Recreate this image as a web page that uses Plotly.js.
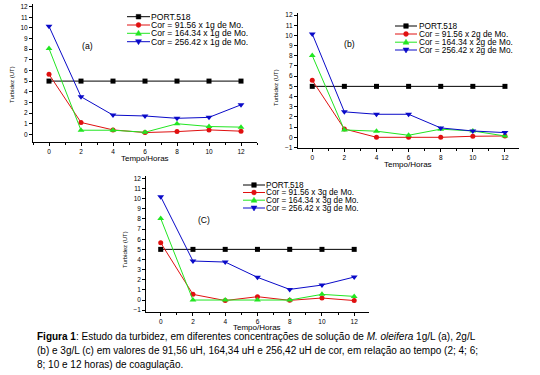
<!DOCTYPE html>
<html>
<head>
<meta charset="utf-8">
<script src="https://cdn.plot.ly/plotly-3.0.1.min.js"></script>
<style>html,body{margin:0;padding:0;background:#fff;}#chart{width:540px;height:375px;}</style>
</head>
<body>
<div id="chart"></div>
<script>
// ---- data ----
const hours = [0, 2, 4, 6, 8, 10, 12];
const port518 = [5, 5, 5, 5, 5, 5, 5];

// panel (a) 1 g/L
const a_cor9156 = [5.64, 1.11, 0.41, 0.16, 0.25, 0.41, 0.29];
const a_cor16434 = [8.06, 0.38, 0.38, 0.19, 0.99, 0.73, 0.67];
const a_cor25642 = [10.15, 3.53, 1.80, 1.72, 1.50, 1.59, 2.77];

// panel (b) 2 g/L
const b_cor9156 = [5.60, 0.82, 0.0, 0.0, 0.0, 0.10, 0.13];
const b_cor16434 = [8.02, 0.72, 0.60, 0.20, 0.80, 0.62, 0.13];
const b_cor25642 = [10.15, 2.50, 2.26, 2.26, 0.92, 0.62, 0.46];

// panel (c) 3 g/L
const c_cor9156 = [5.65, 0.56, -0.05, 0.33, -0.03, 0.20, -0.05];
const c_cor16434 = [8.05, 0.0, 0.0, 0.0, 0.0, 0.56, 0.36];
const c_cor25642 = [10.20, 3.85, 3.75, 2.24, 1.05, 1.48, 2.27];

const legendNames = ['PORT.518', 'Cor = 91.56 x 1g de Mo.', 'Cor = 164.34 x 1g de Mo.', 'Cor = 256.42 x 1g de Mo.'];
const legendNamesB = ['PORT.518', 'Cor = 91.56 x 2g de Mo.', 'Cor = 164.34 x 2g de Mo.', 'Cor = 256.42 x 2g de Mo.'];
const legendNamesC = ['PORT.518', 'Cor = 91.56 x 3g de Mo.', 'Cor = 164.34 x 3g de Mo.', 'Cor = 256.42 x 3g de Mo.'];
const xTickVals = [0, 2, 4, 6, 8, 10, 12];
const xTitle = 'Tempo/Horas';
const yTitle = 'Turbidez (UT)';
const panelLabels = ['(a)', '(b)', '(C)'];

// ---- styles ----
const W = 540, H = 375;
const FONT = 'Liberation Sans, Arial, sans-serif';
const colors = ['#000000', '#e01010', '#22e622', '#0a0ac8'];
const symbols = ['square', 'circle', 'triangle-up', 'triangle-down'];
const msizes = [5, 5, 6, 6];

const panels = [
  {series: [port518, a_cor9156, a_cor16434, a_cor25642], names: legendNames, xa: 'x', ya: 'y'},
  {series: [port518, b_cor9156, b_cor16434, b_cor25642], names: legendNamesB, xa: 'x2', ya: 'y2'},
  {series: [port518, c_cor9156, c_cor16434, c_cor25642], names: legendNamesC, xa: 'x3', ya: 'y3'}
];

const traces = [];
panels.forEach(p => {
  p.series.forEach((s, i) => {
    traces.push({
      x: hours, y: s, xaxis: p.xa, yaxis: p.ya, name: p.names[i],
      type: 'scatter', mode: 'lines+markers',
      line: {color: colors[i], width: 1},
      marker: {color: colors[i], symbol: symbols[i], size: msizes[i]},
      cliponaxis: false, showlegend: false
    });
  });
});

const px = v => v / W;
const py = v => 1 - v / H;

function xaxis(domain, range) {
  return {
    domain: domain, range: range, showline: true, linecolor: '#000', linewidth: 1,
    ticks: 'outside', ticklen: 3, tickwidth: 1, tickcolor: '#000',
    tickvals: xTickVals, showgrid: false, zeroline: false,
    tickfont: {family: FONT, size: 6.5, color: '#000'},
    minor: {dtick: 1, tick0: 0, ticks: 'outside', ticklen: 2, tickcolor: '#000', showgrid: false},
    fixedrange: true, automargin: false
  };
}
function yaxis(domain, range) {
  return {
    domain: domain, range: range, showline: true, linecolor: '#000', linewidth: 1,
    ticks: 'outside', ticklen: 3, tickwidth: 1, tickcolor: '#000',
    dtick: 1, tick0: 0, showgrid: false, zeroline: false,
    tickfont: {family: FONT, size: 6.5, color: '#000'},
    fixedrange: true, automargin: false
  };
}

const annotations = [];
const shapes = [];
function txt(x, y, text, size, opts) {
  annotations.push(Object.assign({
    xref: 'paper', yref: 'paper', x: px(x), y: py(y), text: text, showarrow: false,
    font: {family: FONT, size: size, color: '#000'}, xanchor: 'center', yanchor: 'middle'
  }, opts || {}));
}

// axis titles
txt(145, 158.5, xTitle, 8);
txt(408, 165, xTitle, 8);
txt(257, 327, xTitle, 8);
txt(12, 85, yTitle, 6, {textangle: -90});
txt(276, 88, yTitle, 6, {textangle: -90});
txt(125, 250, yTitle, 6, {textangle: -90});

// panel labels
txt(87, 46, panelLabels[0], 8.7);
txt(349.5, 43.5, panelLabels[1], 8.7);
txt(204, 219.5, panelLabels[2], 8.5);

// legends drawn as shapes + text
function legend(names, x0, x1, textX, ys, fs) {
  names.forEach((n, i) => {
    const y = ys[i];
    shapes.push({type: 'line', xref: 'paper', yref: 'paper', x0: px(x0), x1: px(x1), y0: py(y), y1: py(y),
      line: {color: colors[i], width: 1}});
    const xm = (x0 + x1) / 2;
    const base = {xref: 'paper', yref: 'paper', xsizemode: 'pixel', ysizemode: 'pixel',
      xanchor: px(xm), yanchor: py(y), fillcolor: colors[i], line: {color: colors[i], width: 0.5}};
    if (i === 0) shapes.push(Object.assign({type: 'rect', x0: -2.3, x1: 2.3, y0: -2.3, y1: 2.3}, base));
    else if (i === 1) shapes.push(Object.assign({type: 'circle', x0: -2.4, x1: 2.4, y0: -2.4, y1: 2.4}, base));
    else if (i === 2) shapes.push(Object.assign({type: 'path', path: 'M -3 -2 L 3 -2 L 0 3 Z'}, base));
    else shapes.push(Object.assign({type: 'path', path: 'M -3 2 L 3 2 L 0 -3 Z'}, base));
    txt(textX, y, n, fs, {xanchor: 'left'});
  });
}
legend(legendNames, 127, 150, 149, [16.7, 25, 33.3, 41.7], 8.6);
legend(legendNamesB, 395, 417, 416.5, [26, 34, 42.2, 50], 8.3);
legend(legendNamesC, 243, 265, 264, [185, 192.5, 200.2, 208], 8.2);

// caption
const capX = 35;
txt(capX, 336, '<b>Figura 1</b>: Estudo da turbidez, em diferentes concentrações de solução de <i>M. oleifera</i> 1g/L (a), 2g/L', 10, {xanchor: 'left'});
txt(capX, 350, '(b) e 3g/L (c) em valores de 91,56 uH, 164,34 uH e 256,42 uH de cor, em relação ao tempo (2; 4; 6;', 10, {xanchor: 'left'});
txt(capX, 364, '8; 10 e 12 horas) de coagulação.', 10, {xanchor: 'left'});

const layout = {
  width: W, height: H, margin: {l: 0, r: 0, t: 0, b: 0},
  paper_bgcolor: '#fff', plot_bgcolor: 'rgba(0,0,0,0)', showlegend: false,
  font: {family: FONT, color: '#000'},
  xaxis: xaxis([px(33), px(257)], [-1, 13]),
  yaxis: yaxis([py(141.7), py(3.5)], [-0.7, 12.3]),
  xaxis2: Object.assign(xaxis([px(297.8), px(519.4)], [-0.9, 12.9]), {anchor: 'y2'}),
  yaxis2: Object.assign(yaxis([py(148.3), py(13)], [-1.08, 12.2]), {anchor: 'x2'}),
  xaxis3: Object.assign(xaxis([px(146.2), px(369.2)], [-0.9, 12.93]), {anchor: 'y3'}),
  yaxis3: Object.assign(yaxis([py(311.7), py(176.4)], [-1.15, 12.2]), {anchor: 'x3'}),
  annotations: annotations, shapes: shapes
};
layout.xaxis.anchor = 'y';
layout.yaxis.anchor = 'x';

Plotly.newPlot('chart', traces, layout, {staticPlot: true, displayModeBar: false});
</script>
</body>
</html>
